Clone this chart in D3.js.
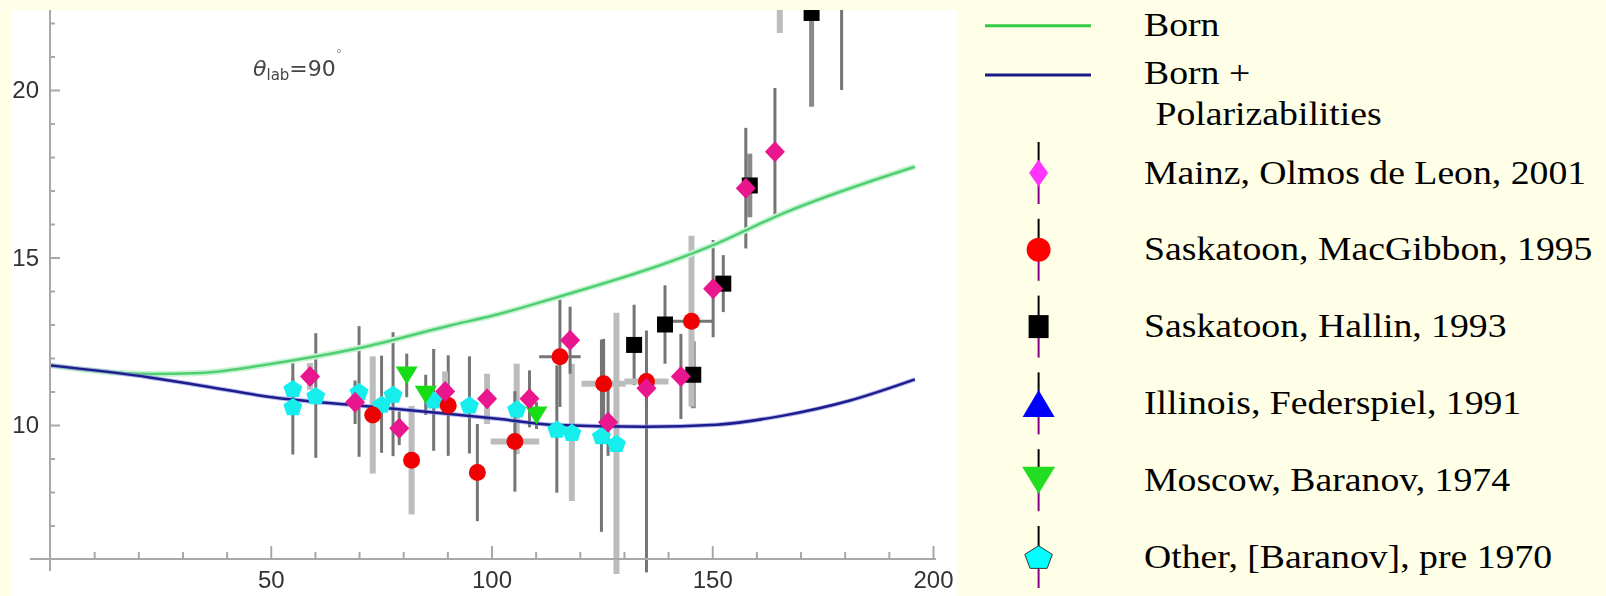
<!DOCTYPE html>
<html>
<head>
<meta charset="utf-8">
<script src="https://cdn.jsdelivr.net/npm/d3@7"></script>
<style>
  body { margin: 0; background: #fffee6; }
  svg { display: block; }
</style>
</head>
<body>
<script>
// curves: photon energy (MeV) vs cross section (nb/sr)
const bornE = [0, 22.6, 34, 50.3, 69.8, 90.6, 101.9, 112.5, 150.2, 166.1, 195.9];
const bornS = [11.78, 11.52, 11.55, 11.83, 12.29, 12.97, 13.32, 13.72, 15.37, 16.32, 17.71];
const polE = [0, 22.6, 34, 50.3, 69.8, 90.6, 101.9, 113.2, 135.1, 151, 166.1, 181.2, 195.9];
const polS = [11.78, 11.42, 11.18, 10.83, 10.58, 10.33, 10.18, 10.01, 9.95, 10.01, 10.28, 10.73, 11.36];

// points: [E, sigma, err minus, err plus, error type, E err, E err type]
const mainz = [
  [58.9, 11.45, 0.4, 0.4, "b"],
  [69.1, 10.68, 0.65, 0.65, "a"],
  [79.1, 9.9, 0.5, 0.5, "a"],
  [89.5, 11.0, 0.6, 0.6, "b"],
  [99.0, 10.78, 0.75, 0.75, "b"],
  [108.6, 10.78, 0.85, 0.85, "a"],
  [117.8, 12.53, 1.0, 1.0, "a"],
  [126.4, 10.08, 1.0, 1.0, "a"],
  [135.1, 11.1, 0.6, 0.6, "a"],
  [142.9, 11.45, 1.27, 1.27, "a"],
  [150.2, 14.07, 1.45, 1.45, "a"],
  [157.6, 17.07, 1.8, 1.8, "a"],
  [164.2, 18.16, 1.9, 1.9, "a"]
];
const macgibbon = [
  [73.1, 10.3, 1.75, 1.75, "b"],
  [81.9, 8.95, 1.62, 1.62, "b"],
  [90.2, 10.58, 1.5, 1.5, "a"],
  [96.8, 8.58, 1.45, 1.45, "a"],
  [105.3, 9.51, 1.5, 1.5, "a", 5.5, "b"],
  [115.5, 12.04, 1.5, 1.7, "a", 4.7, "a"],
  [125.4, 11.23, 1.5, 1.34, "a", 5.0, "b"],
  [135.1, 11.3, 5.7, 1.52, "a", 5.0, "b"],
  [145.3, 13.1, 2.55, 2.55, "b", 4.9, "a"]
];
const hallin = [
  [132.3, 12.39, 1.2, 1.2, "a"],
  [139.3, 13.0, 1.17, 1.17, "a"],
  [145.7, 11.5, 1.0, 1.0, "c"],
  [152.5, 14.22, 0.85, 0.85, "a"],
  [158.5, 17.15, 0.95, 0.95, "c"],
  [165.3, 24.0, 2.3, 2.3, "b"],
  [172.5, 22.3, 2.8, 2.8, "c"],
  [179.3, 24.0, 4.0, 4.0, "a"]
];
const federspiel = [];
const baranov = [
  [80.8, 11.48, 0.65, 0.65, "a"],
  [85.1, 10.9, 0.6, 0.6, "a"],
  [110.2, 10.28, 0.4, 0.4, "a"]
];
const other = [
  [55.0, 11.09, 0.3, 0.3, "a"],
  [55.0, 10.55, 1.43, 1.43, "a"],
  [60.2, 10.88, 1.86, 1.86, "a"],
  [70.0, 11.0, 1.95, 1.95, "a"],
  [75.1, 10.62, 1.45, 1.45, "a"],
  [77.7, 10.92, 1.85, 1.85, "a"],
  [86.9, 10.75, 1.52, 1.52, "a"],
  [95.0, 10.6, 1.45, 1.45, "a"],
  [105.7, 10.48, 1.35, 1.35, "b"],
  [114.8, 9.88, 1.9, 1.9, "a"],
  [118.2, 9.78, 2.05, 2.05, "b"],
  [124.9, 9.68, 2.87, 2.87, "a"],
  [128.3, 9.45, 3.9, 3.9, "b"]
];

const xMajor = [50, 100, 150, 200];
const yMajor = [10, 15, 20];
const curveNames = ["Born", "Born +", " Polarizabilities"];
const legendNames = ["Mainz, Olmos de Leon, 2001", "Saskatoon, MacGibbon, 1995",
  "Saskatoon, Hallin, 1993", "Illinois, Federspiel, 1991",
  "Moscow, Baranov, 1974", "Other, [Baranov], pre 1970"];

const W = 1606, H = 596;
const svg = d3.select("body").append("svg").attr("width", W).attr("height", H);
const defs = svg.append("defs");
defs.append("filter").attr("id", "soft").append("feGaussianBlur").attr("stdDeviation", 0.6);
defs.append("clipPath").attr("id", "panel").append("rect")
  .attr("x", 11).attr("y", 10).attr("width", 946).attr("height", 586);

svg.append("rect").attr("width", W).attr("height", H).attr("fill", "#fffee6");
svg.append("rect").attr("x", 11).attr("y", 10).attr("width", 946).attr("height", 586).attr("fill", "#fff");

const x = d3.scaleLinear().domain([0, 200]).range([50, 933]);
const y = d3.scaleLinear().domain([6, 20]).range([559, 90]);

// marker shapes, centered on 0,0
function shape(kind, w, h) {
  const a = w / 2, b = h / 2;
  if (kind == "diamond") return `M0,${-b}L${a},0L0,${b}L${-a},0Z`;
  if (kind == "circle") return `M${-a},0A${a},${b} 0 1 0 ${a},0A${a},${b} 0 1 0 ${-a},0Z`;
  if (kind == "square") return `M${-a},${-b}H${a}V${b}H${-a}Z`;
  if (kind == "up") return `M0,${-b}L${a},${b}L${-a},${b}Z`;
  if (kind == "down") return `M${-a},${-b}L${a},${-b}L0,${b}Z`;
  let p = d3.range(5).map(function(k) {
    let t = -Math.PI / 2 + k * 2 * Math.PI / 5;
    return [a * Math.cos(t), b * Math.sin(t) + b * 0.1];
  });
  return "M" + p.join("L") + "Z";
}

const series = [
  {data: other, shape: "pentagon", color: "#14eeee", w: 20, h: 19},
  {data: baranov, shape: "down", color: "#18dd18", w: 22, h: 18},
  {data: federspiel, shape: "up", color: "#1010ee", w: 20, h: 18},
  {data: hallin, shape: "square", color: "#000", w: 16, h: 16},
  {data: macgibbon, shape: "circle", color: "#f00000", w: 17, h: 17},
  {data: mainz, shape: "diamond", color: "#ea128e", w: 20, h: 21}
];
const barStyle = {a: ["#747474", 3], b: ["#bcbcbc", 6], c: ["#8a8a8a", 5]};

const plot = svg.append("g").attr("clip-path", "url(#panel)");
const soft = plot.append("g").attr("filter", "url(#soft)");

// error bars
const bars = soft.append("g");
series.forEach(function(s) {
  s.data.forEach(function(d) {
    let st = barStyle[d[4]];
    bars.append("line")
      .attr("x1", x(d[0])).attr("x2", x(d[0]))
      .attr("y1", y(d[1] + d[3])).attr("y2", y(d[1] - d[2]))
      .attr("stroke", st[0]).attr("stroke-width", st[1]);
    if (d[5]) {
      let hs = barStyle[d[6]];
      bars.append("line")
        .attr("x1", x(d[0] - d[5])).attr("x2", x(d[0] + d[5]))
        .attr("y1", y(d[1])).attr("y2", y(d[1]))
        .attr("stroke", hs[0]).attr("stroke-width", hs[1]);
    }
  });
});

// theory curves
const bornLine = d3.line().x((d, i) => x(bornE[i])).y(d => y(d)).curve(d3.curveMonotoneX);
const polLine = d3.line().x((d, i) => x(polE[i])).y(d => y(d)).curve(d3.curveMonotoneX);
soft.append("path").attr("d", bornLine(bornS)).attr("fill", "none")
  .attr("stroke", "#c9f3d3").attr("stroke-width", 6);
soft.append("path").attr("d", bornLine(bornS)).attr("fill", "none")
  .attr("stroke", "#4fcf72").attr("stroke-width", 2.5);
soft.append("path").attr("d", polLine(polS)).attr("fill", "none")
  .attr("stroke", "#8a8ae6").attr("stroke-width", 4.5).attr("opacity", 0.6);
soft.append("path").attr("d", polLine(polS)).attr("fill", "none")
  .attr("stroke", "#1c1c8a").attr("stroke-width", 2.5);

// markers
series.forEach(function(s) {
  soft.append("g").selectAll("path").data(s.data).enter().append("path")
    .attr("d", shape(s.shape, s.w, s.h))
    .attr("transform", d => `translate(${x(d[0])},${y(d[1])})`)
    .attr("fill", s.color);
});

// axes, Mathematica style (ticks inside)
const axes = svg.append("g").attr("filter", "url(#soft)");
const y0 = y(6);
let xMinor = d3.range(10, 200, 10).filter(v => v % 50 != 0);
let yMinor = d3.range(7, 23).filter(v => v % 5 != 0);

axes.append("g").attr("transform", `translate(0,${y0})`)
  .call(d3.axisBottom(x).tickValues(xMajor).tickSize(-13).tickPadding(12).tickFormat(d3.format("d")));
axes.append("g").attr("transform", `translate(0,${y0})`)
  .call(d3.axisBottom(x).tickValues(xMinor).tickSize(-7).tickFormat(""));
axes.append("g").attr("transform", `translate(${x(0)},0)`)
  .call(d3.axisLeft(y).tickValues(yMajor).tickSize(-10).tickPadding(11).tickFormat(d3.format("d")));
axes.append("g").attr("transform", `translate(${x(0)},0)`)
  .call(d3.axisLeft(y).tickValues(yMinor).tickSize(-5).tickFormat(""));

axes.selectAll(".domain").remove();
axes.selectAll(".tick line").attr("stroke", "#a8a8a8").attr("stroke-width", 2);
axes.selectAll(".tick text").attr("fill", "#333").attr("font-family", "Liberation Sans")
  .attr("font-size", 24);
axes.append("line").attr("x1", 30).attr("x2", 936).attr("y1", y0).attr("y2", y0)
  .attr("stroke", "#a8a8a8").attr("stroke-width", 2);
axes.append("line").attr("x1", x(0)).attr("x2", x(0)).attr("y1", 10).attr("y2", 571)
  .attr("stroke", "#a8a8a8").attr("stroke-width", 2);

// angle label
let lab = axes.append("text").attr("x", 253).attr("y", 76)
  .attr("font-family", "DejaVu Sans").attr("font-size", 22).attr("fill", "#444");
lab.append("tspan").attr("font-style", "italic").text("θ");
lab.append("tspan").attr("font-size", 15).attr("dy", 4).text("lab");
lab.append("tspan").attr("dy", -4).text("=90");
lab.append("tspan").attr("font-size", 13).attr("dy", -18).attr("fill", "#999").text("°");

// legend
const leg = svg.append("g");
const curveColors = ["#33cc44", "#1a1a8c"];
[25.7, 75].forEach(function(ly, i) {
  leg.append("line").attr("x1", 985).attr("x2", 1091).attr("y1", ly).attr("y2", ly)
    .attr("stroke", curveColors[i]).attr("stroke-width", 3);
});
const legText = function(str, tx, ty) {
  leg.append("text").attr("transform", `translate(${tx},${ty}) scale(1.11,1)`)
    .attr("font-family", "Liberation Serif").attr("font-size", 34).attr("fill", "#000")
    .attr("xml:space", "preserve").text(str);
};
legText(curveNames[0], 1144, 36);
legText(curveNames[1], 1144, 83.5);
legText(curveNames[2], 1146, 125);

const legShapes = [
  ["diamond", "#ff33ff", 19, 27],
  ["circle", "#ff0000", 24, 24],
  ["square", "#000", 20, 23],
  ["up", "#0000ff", 32, 27],
  ["down", "#22dd22", 33, 27],
  ["pentagon", "#00ffff", 29, 25]
];
const symX = 1038.6;
legendNames.forEach(function(name, i) {
  let cy = 173 + i * 76.8;
  leg.append("line").attr("x1", symX).attr("x2", symX).attr("y1", cy - 31).attr("y2", cy)
    .attr("stroke", "#000").attr("stroke-width", 2);
  leg.append("line").attr("x1", symX).attr("x2", symX).attr("y1", cy).attr("y2", cy + 31)
    .attr("stroke", "#880088").attr("stroke-width", 2);
  let sh = legShapes[i];
  leg.append("path").attr("d", shape(sh[0], sh[2], sh[3]))
    .attr("transform", `translate(${symX},${cy})`)
    .attr("fill", sh[1])
    .attr("stroke", sh[0] == "pentagon" ? "#333" : "none").attr("stroke-width", 1);
  legText(name, 1144, cy + 10.5);
});
</script>
</body>
</html>
